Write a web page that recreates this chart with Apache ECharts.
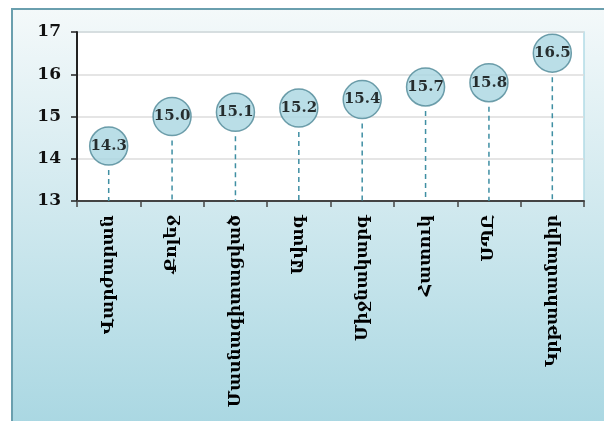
<!DOCTYPE html>
<html>
<head>
<meta charset="utf-8">
<script src="https://cdn.jsdelivr.net/npm/echarts@6/dist/echarts.min.js"></script>
<style>
  html, body { margin: 0; padding: 0; background: #fff; }
  #box { width: 604px; height: 421px; }
</style>
</head>
<body>
<div id="box"></div>
<script>
// school types and values
var categories = ['Վարժարան', 'Քոլեջ', 'Մասնագիտացված', 'Ավագ', 'Միջնակարգ', 'Հատուկ', 'ՍՊԸ', 'Կրթահամալիր'];
var values = [14.3, 15.0, 15.1, 15.2, 15.4, 15.7, 15.8, 16.5];
var yTicks = [13, 14, 15, 16, 17];

var myChart = echarts.init(document.getElementById('box'));
var serif = '"DejaVu Serif", "Liberation Serif", serif';

var option = {
  animation: false,
  graphic: [
    {
      type: 'rect',
      z: -10,
      shape: { x: 12, y: 9, width: 600, height: 420 },
      style: {
        fill: new echarts.graphic.LinearGradient(0, 0, 0, 1, [
          { offset: 0, color: '#f4f9fa' },
          { offset: 1, color: '#a9d7e2' }
        ]),
        stroke: '#6a9fae',
        lineWidth: 2
      }
    }
  ],
  grid: {
    left: 77,
    top: 32,
    right: 20,
    bottom: 220,
    show: true,
    backgroundColor: '#ffffff',
    borderColor: '#b3dbe6',
    borderWidth: 1.5
  },
  xAxis: {
    type: 'category',
    data: categories,
    boundaryGap: true,
    axisLine: { lineStyle: { color: '#444', width: 2 } },
    axisTick: { show: true, length: 6, lineStyle: { color: '#444', width: 1.5 } },
    axisLabel: {
      rotate: 90,
      interval: 0,
      margin: 14,
      color: '#000',
      fontFamily: serif,
      fontWeight: 'bold',
      fontSize: 17
    }
  },
  yAxis: {
    type: 'value',
    min: yTicks[0],
    max: yTicks[yTicks.length - 1],
    interval: 1,
    axisLine: { show: true, lineStyle: { color: '#222', width: 2 } },
    axisTick: { show: true, length: 6, lineStyle: { color: '#222', width: 1.5 } },
    axisLabel: {
      margin: 16,
      color: '#111',
      fontFamily: serif,
      fontWeight: 'bold',
      fontSize: 17
    },
    splitLine: { lineStyle: { color: '#dcdcdc', width: 1.5 } }
  },
  series: [
    {
      // dashed drop lines under each bubble
      type: 'custom',
      z: 1,
      data: values.map(function (v, i) { return [i, v]; }),
      renderItem: function (params, api) {
        var top = api.coord([api.value(0), api.value(1)]);
        var bottom = api.coord([api.value(0), yTicks[0]]);
        return {
          type: 'line',
          shape: { x1: top[0], y1: top[1] + 24, x2: bottom[0], y2: bottom[1] },
          style: { stroke: '#3f8fa3', lineWidth: 1.5, lineDash: [5, 4] }
        };
      }
    },
    {
      type: 'scatter',
      z: 3,
      data: values,
      symbolSize: 38,
      itemStyle: { color: '#a9d6e1', borderColor: '#4d8796', borderWidth: 1.5 },
      label: {
        show: true,
        position: 'inside',
        formatter: function (p) { return p.value.toFixed(1); },
        color: '#000',
        fontFamily: serif,
        fontWeight: 'bold',
        fontSize: 15
      }
    }
  ]
};

myChart.setOption(option);
</script>
</body>
</html>
